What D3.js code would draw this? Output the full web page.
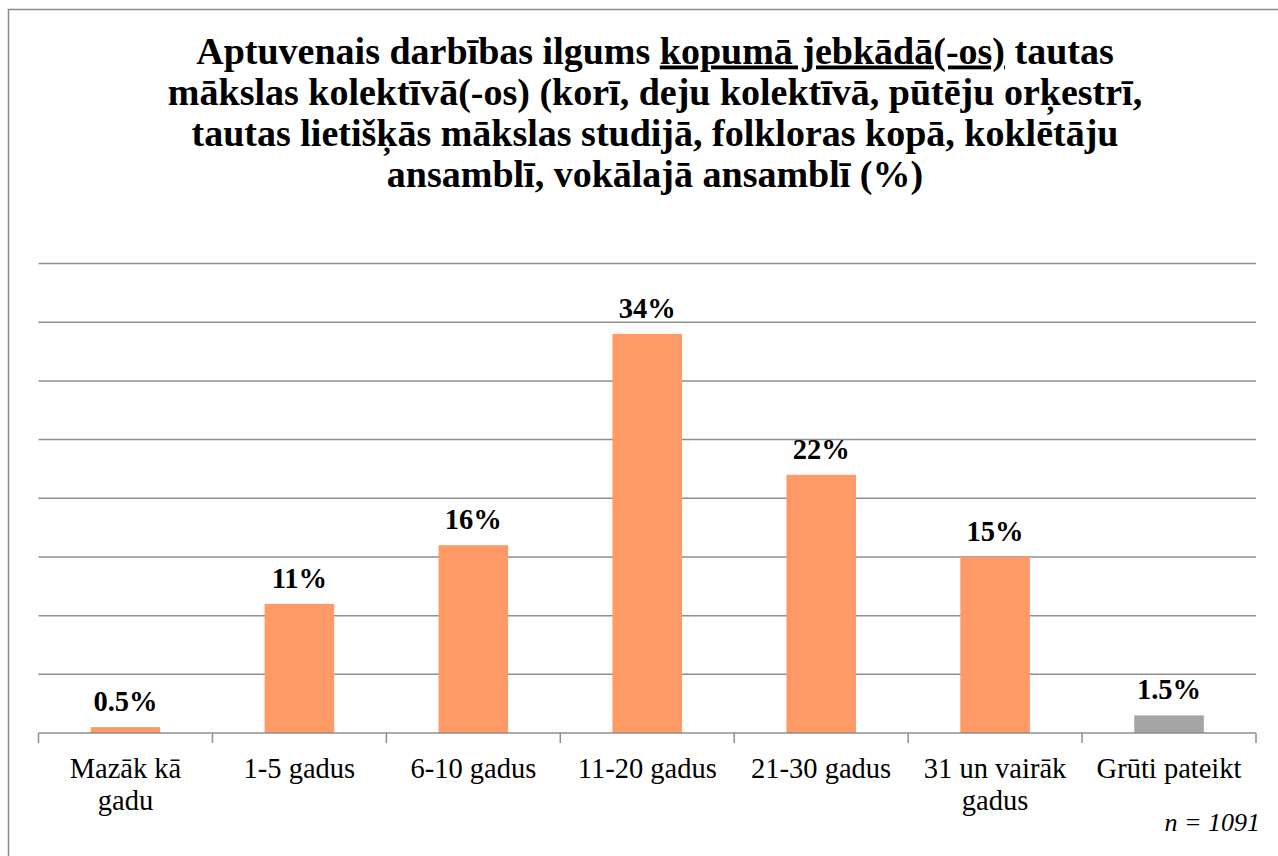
<!DOCTYPE html>
<html><head><meta charset="utf-8">
<script src="https://cdn.jsdelivr.net/npm/d3@7"></script>
<style>body{margin:0;background:#fff;} svg{display:block;}</style>
</head><body>
<script>
const categories = [["Mazāk kā","gadu"],["1-5 gadus"],["6-10 gadus"],["11-20 gadus"],["21-30 gadus"],["31 un vairāk","gadus"],["Grūti pateikt"]];
const values = [0.5, 11, 16, 34, 22, 15, 1.5];
const valueLabels = ["0.5%","11%","16%","34%","22%","15%","1.5%"];
const barColors = ["#FF9966","#FF9966","#FF9966","#FF9966","#FF9966","#FF9966","#A5A5A5"];
const yTicks = [0,5,10,15,20,25,30,35,40];
const titleLines = [
  [["Aptuvenais darbības ilgums ",false],["kopumā jebkādā(-os)",true],[" tautas",false]],
  [["mākslas kolektīvā(-os) (korī, deju kolektīvā, pūtēju orķestrī,",false]],
  [["tautas lietišķās mākslas studijā, folkloras kopā, koklētāju",false]],
  [["ansamblī, vokālajā ansamblī (%)",false]]
];
const note = "n = 1091";

const W=1278,H=856;
const font="Liberation Serif";
const svg=d3.select("body").append("svg").attr("width",W).attr("height",H);
svg.append("rect").attr("x",8.5).attr("y",9.5).attr("width",W+20).attr("height",H+20)
  .attr("fill","#fff").attr("stroke","#8a8a8a").attr("stroke-width",1.5);

const x=d3.scaleBand().domain(d3.range(values.length)).range([38.5,1256]).paddingInner(0.6).paddingOuter(0.3);
const y=d3.scaleLinear().domain([0,40]).range([733,263.5]);

// gridlines
svg.append("g").selectAll("line").data(yTicks.slice(1)).join("line")
  .attr("x1",38.5).attr("x2",1256).attr("y1",d=>y(d)).attr("y2",d=>y(d))
  .attr("stroke","#8e8e8e").attr("stroke-width",1.5);

// bars
svg.append("g").selectAll("rect").data(values).join("rect")
  .attr("x",(d,i)=>x(i)).attr("width",x.bandwidth())
  .attr("y",d=>y(d)).attr("height",d=>y(0)-y(d))
  .attr("fill",(d,i)=>barColors[i]);

// axis line + ticks
svg.append("line").attr("x1",38.5).attr("x2",1256).attr("y1",733).attr("y2",733)
  .attr("stroke","#8e8e8e").attr("stroke-width",1.5);
const step=(1256-38.5)/values.length;
svg.append("g").selectAll("line").data(d3.range(values.length+1)).join("line")
  .attr("x1",i=>38.5+i*step).attr("x2",i=>38.5+i*step).attr("y1",733).attr("y2",743)
  .attr("stroke","#8e8e8e").attr("stroke-width",1.5);

// value labels
svg.append("g").selectAll("text").data(values).join("text")
  .attr("x",(d,i)=>x(i)+x.bandwidth()/2).attr("y",d=>y(d)-16)
  .attr("text-anchor","middle").style("font-family",font).style("font-weight","bold")
  .style("font-size","28.5px").attr("fill","#000").text((d,i)=>valueLabels[i]);

// category labels
const cg=svg.append("g").selectAll("text").data(categories).join("text")
  .attr("x",(d,i)=>x(i)+x.bandwidth()/2).attr("y",778)
  .attr("text-anchor","middle").style("font-family",font).style("font-size","28.5px").attr("fill","#000");
cg.selectAll("tspan").data(d=>d).join("tspan")
  .attr("x",function(){return this.parentNode.getAttribute("x");})
  .attr("dy",(d,j)=>j===0?0:32).text(d=>d);

// title
const tg=svg.append("g");
titleLines.forEach((line,li)=>{
  const t=tg.append("text").attr("x",W/2+16).attr("y",63.5+li*41).attr("text-anchor","middle")
    .style("font-family",font).style("font-weight","bold").style("font-size","38px").attr("fill","#000");
  line.forEach(([s,u])=>{
    const ts=t.append("tspan").text(s);
    if(u) ts.style("text-decoration","underline");
  });
});

// note
svg.append("text").attr("x",1260).attr("y",831).attr("text-anchor","end")
  .style("font-family",font).style("font-style","italic").style("font-size","26px").attr("fill","#000").text(note);
</script>
</body></html>
